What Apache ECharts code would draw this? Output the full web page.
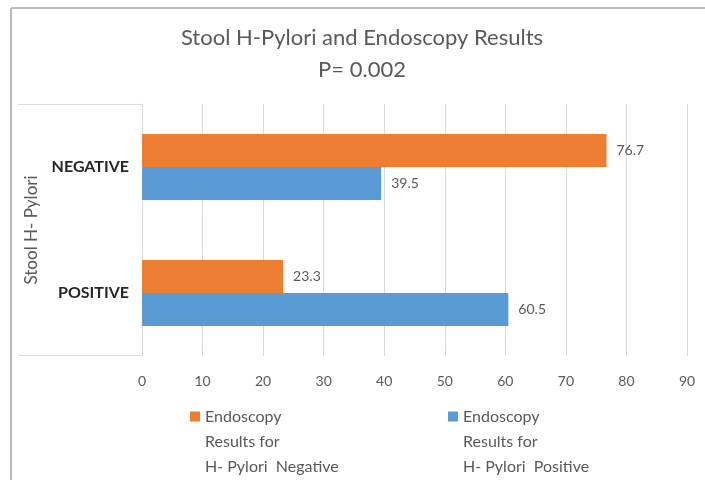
<!DOCTYPE html>
<html>
<head>
<meta charset="utf-8">
<script src="https://cdn.jsdelivr.net/npm/echarts@6/dist/echarts.min.js"></script>
<style>
  html, body { margin: 0; padding: 0; background: #fff; }
  #chart { width: 705px; height: 480px; }
</style>
</head>
<body>
<div id="chart"></div>
<script>
// 数据
const categories = ["POSITIVE", "NEGATIVE"];
const endoNegative = [23.3, 76.7];
const endoPositive = [60.5, 39.5];
const xTicks = [0, 90, 10]; // min, max, interval

const nameNeg = "Endoscopy\nResults for\nH- Pylori  Negative";
const namePos = "Endoscopy\nResults for\nH- Pylori  Positive";

const font = "Lato, 'Noto Sans', sans-serif";
const gray = "#595959";
const gridColor = "#d9d9d9";

const legendText = {
  color: gray,
  fontSize: 16,
  fontFamily: font,
  lineHeight: 25,
};

// 图例文字第一行与色块对齐：前面补两行空行
function legendFormatter(name) {
  return "\n\n" + name;
}

const option = {
  animation: false,
  title: {
    text: "Stool H-Pylori and Endoscopy Results\nP= 0.002",
    left: 362,
    textAlign: "center",
    top: 22,
    padding: 0,
    textStyle: {
      color: gray,
      fontSize: 22,
      fontWeight: "normal",
      fontFamily: font,
      lineHeight: 32,
    },
  },
  color: ["#ED7D31", "#5B9BD5"],
  legend: [
    {
      data: [nameNeg],
      left: 190,
      top: 354,
      padding: 0,
      itemWidth: 10,
      itemHeight: 10,
      icon: "rect",
      formatter: legendFormatter,
      textStyle: legendText,
    },
    {
      data: [namePos],
      left: 448,
      top: 354,
      padding: 0,
      itemWidth: 10,
      itemHeight: 10,
      icon: "rect",
      formatter: legendFormatter,
      textStyle: legendText,
    },
  ],
  grid: {
    left: 142,
    right: 18,
    top: 104,
    bottom: 124,
  },
  xAxis: {
    type: "value",
    min: xTicks[0],
    max: xTicks[1],
    interval: xTicks[2],
    axisLine: { show: false },
    axisTick: { show: false },
    splitLine: { lineStyle: { color: gridColor, width: 1 } },
    axisLabel: {
      color: gray,
      fontSize: 14,
      fontFamily: font,
      margin: 18,
    },
  },
  yAxis: {
    type: "category",
    data: categories,
    name: "Stool H- Pylori",
    nameLocation: "middle",
    nameRotate: 90,
    nameGap: 102,
    nameTextStyle: {
      color: gray,
      fontSize: 17,
      fontFamily: font,
    },
    axisLine: { lineStyle: { color: gridColor } },
    axisTick: { show: false },
    axisLabel: {
      color: "#262626",
      fontSize: 16,
      fontWeight: "bold",
      fontFamily: font,
      margin: 13,
      padding: [0, 0, 6, 0],
    },
  },
  series: [
    {
      name: nameNeg,
      type: "bar",
      data: endoNegative,
      barWidth: 33,
      barGap: "0%",
      label: {
        show: true,
        position: "right",
        distance: 10,
        color: gray,
        fontSize: 14,
        fontFamily: font,
      },
    },
    {
      name: namePos,
      type: "bar",
      data: endoPositive,
      barWidth: 33,
      barGap: "0%",
      label: {
        show: true,
        position: "right",
        distance: 10,
        color: gray,
        fontSize: 14,
        fontFamily: font,
      },
    },
  ],
  graphic: [
    // 外框
    { type: "line", shape: { x1: 11, y1: 8, x2: 705, y2: 8 }, style: { stroke: "#a6a6a6", lineWidth: 1.5 } },
    { type: "line", shape: { x1: 11, y1: 8, x2: 11, y2: 480 }, style: { stroke: "#a6a6a6", lineWidth: 1.5 } },
    // 轴标题区域
    { type: "line", shape: { x1: 18, y1: 104.5, x2: 142, y2: 104.5 }, style: { stroke: gridColor, lineWidth: 1 } },
    { type: "line", shape: { x1: 18, y1: 355.5, x2: 142, y2: 355.5 }, style: { stroke: gridColor, lineWidth: 1 } },
  ],
};

const chart = echarts.init(document.getElementById("chart"));
chart.setOption(option);
</script>
</body>
</html>
